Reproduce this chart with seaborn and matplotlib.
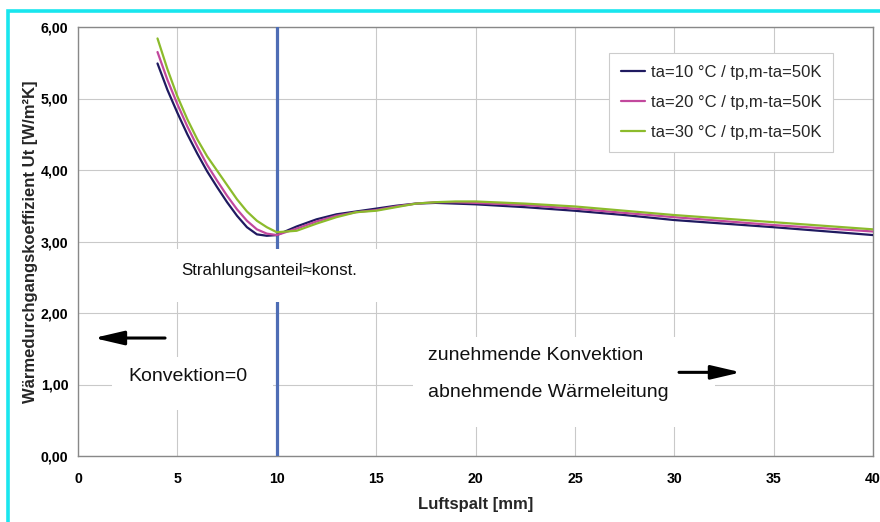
import numpy as np
import pandas as pd
import matplotlib
matplotlib.use("Agg")
import matplotlib.pyplot as plt
import seaborn as sns
from matplotlib.patches import Rectangle

# ---- data ----
luftspalt = [4, 4.5, 5, 5.5, 6, 6.5, 7, 7.5, 8, 8.5, 9, 9.5, 10,
             11, 12, 13, 14, 15, 16, 17, 18, 19, 20, 22.5, 25, 27.5, 30, 35, 40]
ut_ta10 = [5.49, 5.12, 4.80, 4.50, 4.23, 3.98, 3.76, 3.55, 3.36, 3.20, 3.10, 3.08, 3.09,
           3.21, 3.31, 3.38, 3.42, 3.46, 3.50, 3.53, 3.54, 3.53, 3.52, 3.48, 3.43, 3.37, 3.30, 3.20, 3.09]
ut_ta20 = [5.65, 5.26, 4.92, 4.61, 4.33, 4.07, 3.85, 3.64, 3.45, 3.29, 3.17, 3.11, 3.09,
           3.18, 3.28, 3.36, 3.41, 3.44, 3.49, 3.53, 3.55, 3.55, 3.54, 3.51, 3.46, 3.40, 3.34, 3.23, 3.14]
ut_ta30 = [5.84, 5.41, 5.03, 4.71, 4.43, 4.19, 3.99, 3.79, 3.59, 3.42, 3.29, 3.20, 3.13,
           3.15, 3.25, 3.34, 3.41, 3.43, 3.48, 3.53, 3.55, 3.56, 3.56, 3.53, 3.49, 3.43, 3.37, 3.27, 3.17]
series_labels = ["ta=10 °C / tp,m-ta=50K", "ta=20 °C / tp,m-ta=50K", "ta=30 °C / tp,m-ta=50K"]
series_colors = ["#1f1a60", "#c2489d", "#8cbb2c"]
x_ticks = [0, 5, 10, 15, 20, 25, 30, 35, 40]
x_ticklabels = ["0", "5", "10", "15", "20", "25", "30", "35", "40"]
y_ticks = [0, 1, 2, 3, 4, 5, 6]
y_ticklabels = ["0,00", "1,00", "2,00", "3,00", "4,00", "5,00", "6,00"]
divider_x = 10

df = pd.concat([
    pd.DataFrame({"Luftspalt": luftspalt, "Ut": vals, "Serie": lab})
    for vals, lab in zip([ut_ta10, ut_ta20, ut_ta30], series_labels)
], ignore_index=True)

sns.set_theme(style="whitegrid")
plt.rcParams["font.family"] = ["Liberation Sans", "DejaVu Sans"]

fig = plt.figure(figsize=(8.8, 5.22), dpi=100)
fig.patch.set_facecolor("white")
ax = fig.add_axes([78 / 880, 1 - 456 / 522, 795 / 880, 429 / 522])
ax.set_facecolor("white")

# cyan frame around the figure (cut at right and bottom)
fig.add_artist(Rectangle((8 / 880, -0.1), 1.2, 1 - 11 / 522 + 0.1, transform=fig.transFigure,
                         fill=False, edgecolor="#19e6ee", linewidth=2.6, zorder=0))

sns.lineplot(data=df, x="Luftspalt", y="Ut", hue="Serie", palette=series_colors,
             linewidth=1.6, ax=ax, zorder=5, sort=True)
for ln in ax.get_lines():
    ln.set_solid_joinstyle("round")
    ln.set_solid_capstyle("round")

ax.axvline(divider_x, color="#4e6db5", linewidth=2.3, zorder=3)

ax.set_xlim(0, 40)
ax.set_ylim(0, 6)
ax.set_xticks(x_ticks)
ax.set_xticklabels(x_ticklabels)
ax.set_yticks(y_ticks)
ax.set_yticklabels(y_ticklabels)
ax.tick_params(axis="both", labelsize=10.2, length=0, colors="black")
ax.tick_params(axis="y", pad=7)
ax.tick_params(axis="x", pad=11.5)
for t in ax.get_xticklabels() + ax.get_yticklabels():
    t.set_fontweight("bold")
ax.grid(True, color="#c9c9c9", linewidth=0.8)
for s in ax.spines.values():
    s.set_color("#888888")
    s.set_linewidth(1.0)

ax.set_xlabel("Luftspalt [mm]", fontsize=12, fontweight="bold", labelpad=8)
ax.set_ylabel("Wärmedurchgangskoeffizient Ut [W/m²K]", fontsize=12, fontweight="bold", labelpad=1.5)

# white label areas covering the grid
for (x0, x1, y0, y1) in [(4.53, 15.5, 2.16, 2.90), (1.71, 9.81, 0.65, 1.39), (16.86, 32.05, 0.41, 1.66)]:
    ax.add_patch(Rectangle((x0, y0), x1 - x0, y1 - y0, facecolor="white", edgecolor="none", zorder=4))

txt_kw = dict(color="#111111", va="center", ha="left", zorder=6)
ax.text(5.18, 2.60, "Strahlungsanteil≈konst.", fontsize=12.2, **txt_kw)
ax.text(2.52, 1.11, "Konvektion=0", fontsize=14, **txt_kw)
ax.text(17.6, 1.405, "zunehmende Konvektion", fontsize=14, **txt_kw)
ax.text(17.6, 0.885, "abnehmende Wärmeleitung", fontsize=14, **txt_kw)

arrow_kw = dict(arrowstyle="-|>,head_length=1.5,head_width=0.35", color="black", lw=2.2,
                shrinkA=0, shrinkB=0)
ax.annotate("", xy=(0.8, 1.65), xytext=(4.38, 1.65), arrowprops=arrow_kw, zorder=6)
ax.annotate("", xy=(33.36, 1.17), xytext=(30.24, 1.17), arrowprops=arrow_kw, zorder=6)

leg = ax.legend(loc="upper right", bbox_to_anchor=(0.95, 0.939), fontsize=12, frameon=True,
                fancybox=False, framealpha=1, edgecolor="#cccccc", handlelength=1.45,
                handletextpad=0.35, labelspacing=0.9, borderpad=0.7, borderaxespad=0,
                title=None)
leg.get_frame().set_linewidth(0.8)
leg.set_zorder(7)

fig.savefig("out.png", dpi=100, facecolor="white")
